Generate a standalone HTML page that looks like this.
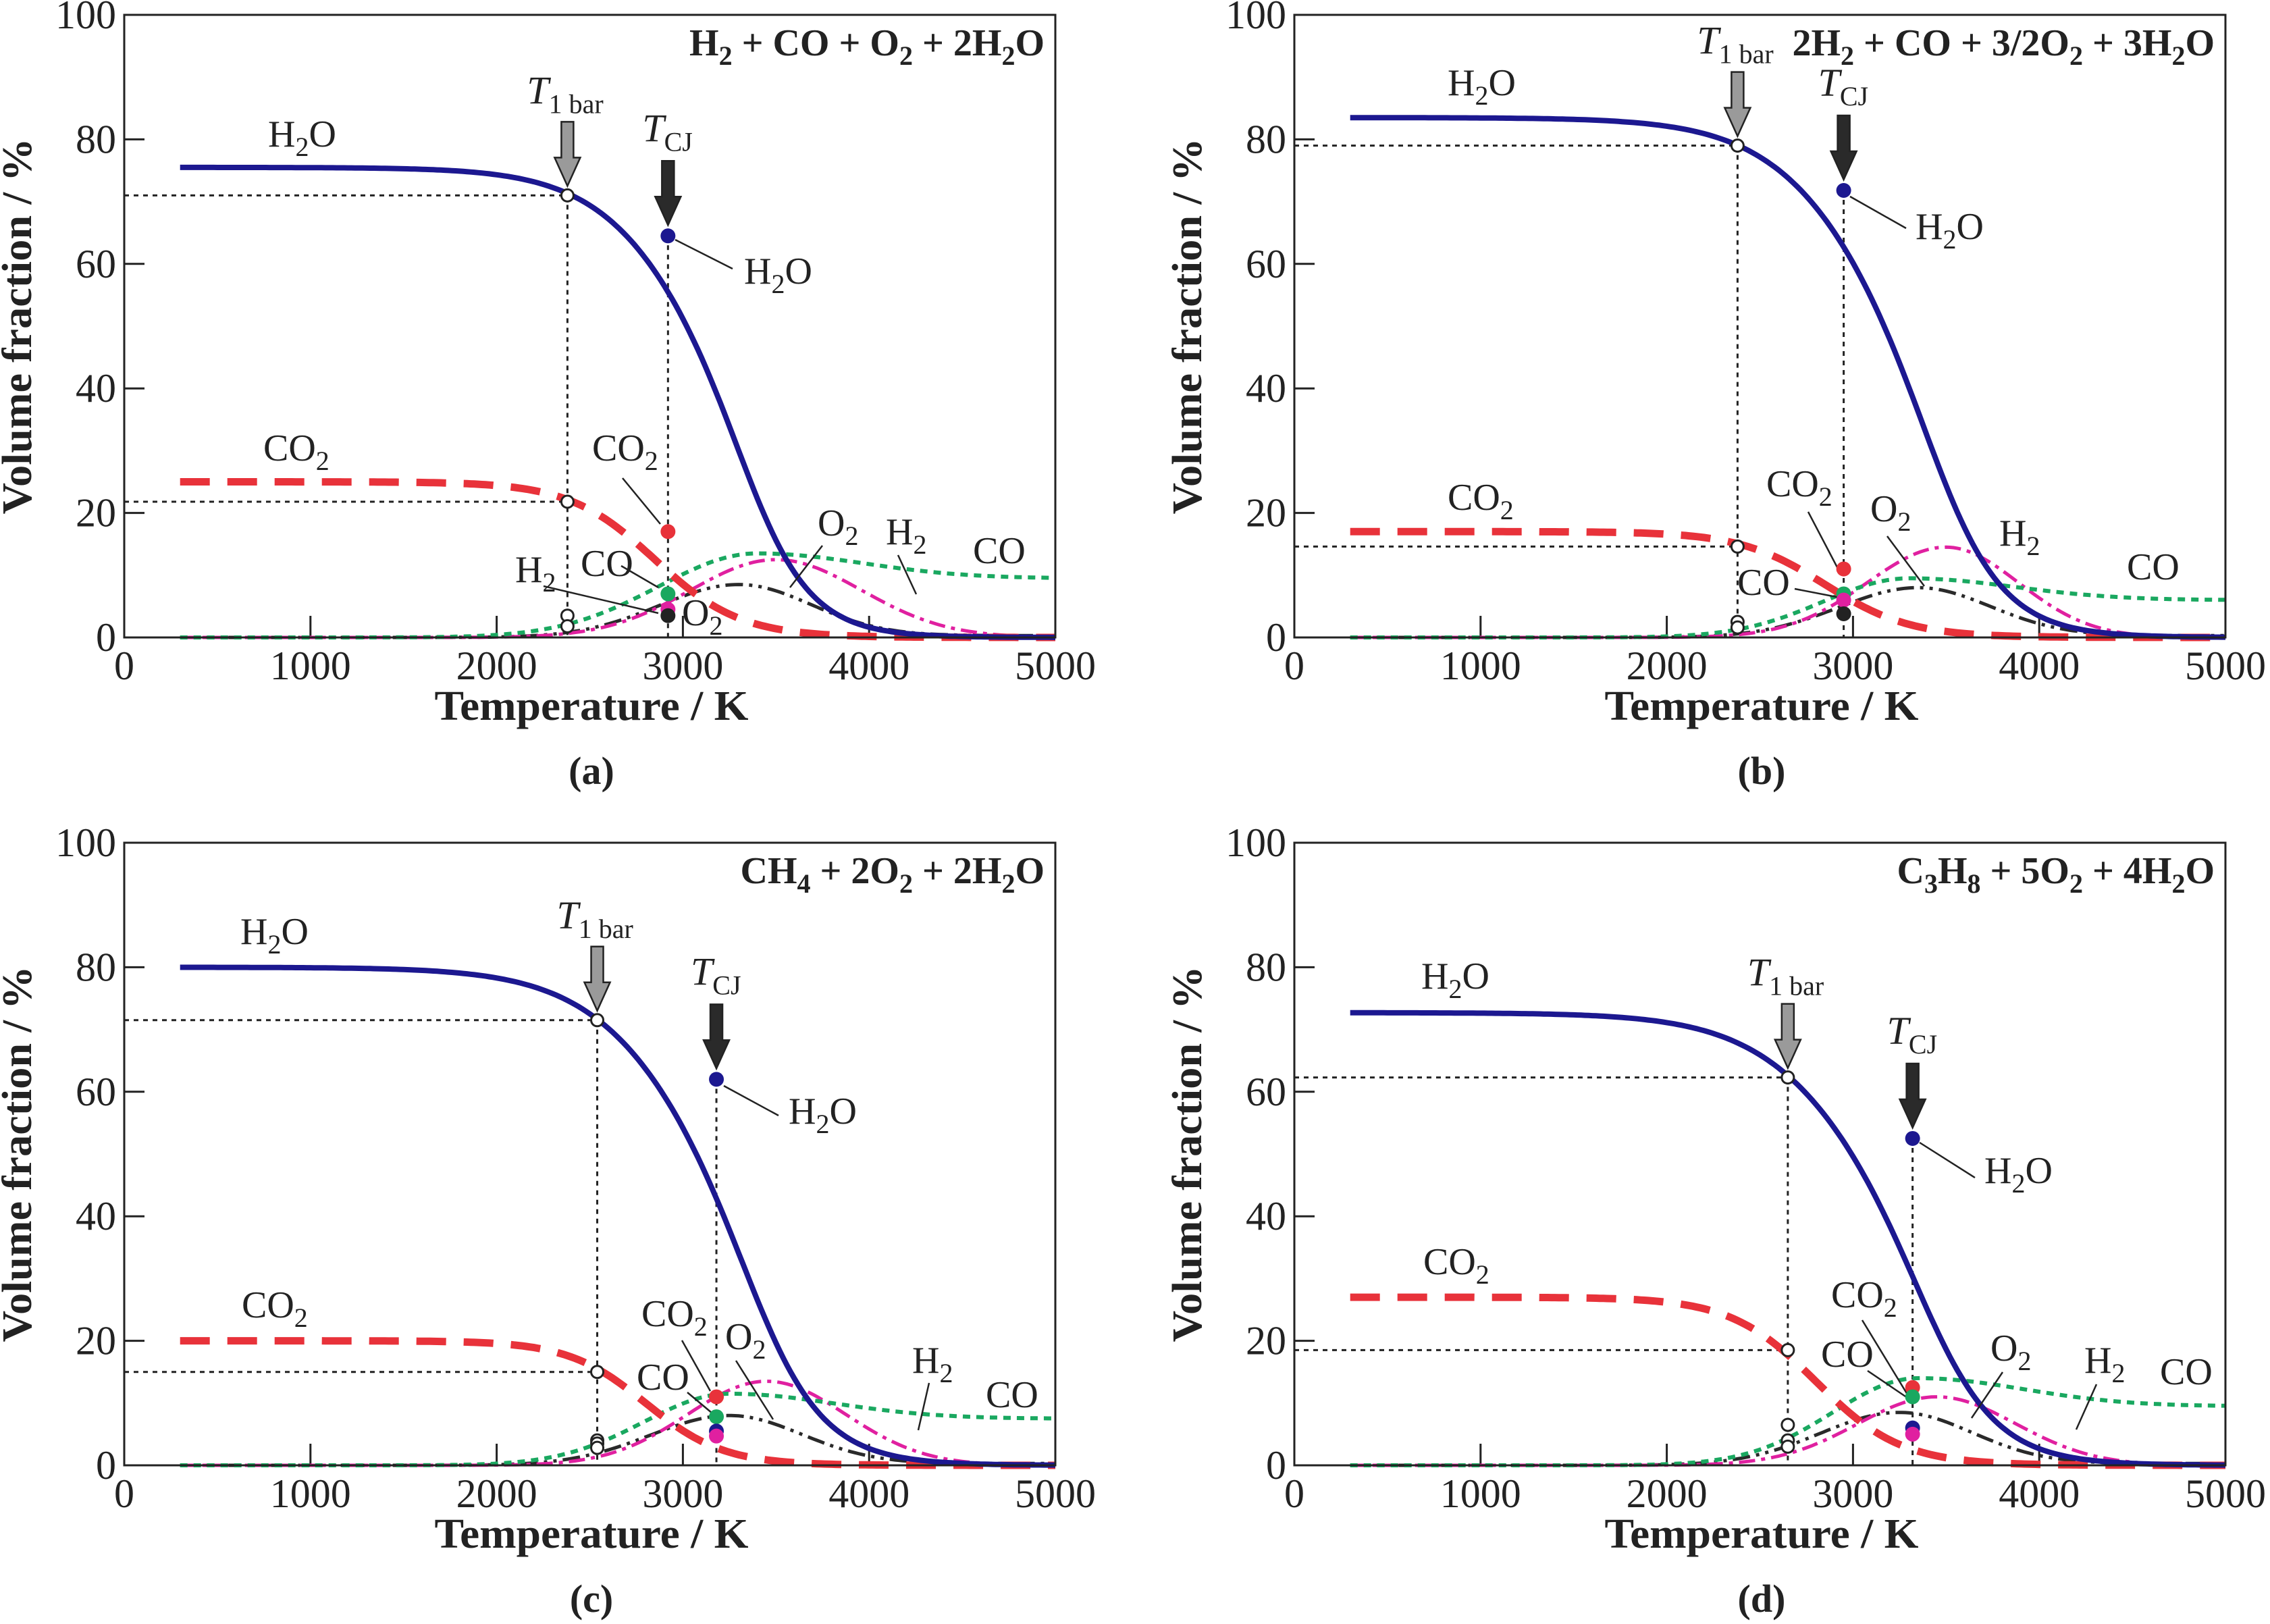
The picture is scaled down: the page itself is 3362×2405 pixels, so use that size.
<!DOCTYPE html>
<html><head><meta charset="utf-8"><style>
html,body{margin:0;padding:0;background:#fff;}
svg{display:block;}
text{font-family:"Liberation Serif",serif;fill:#222;}
</style></head><body>
<svg id="s" width="3362" height="2405" viewBox="0 0 3362 2405" xmlns="http://www.w3.org/2000/svg"></svg>
<script>
var S=document.getElementById('s'),out='';
function txt(x,y,s,fs,opt){opt=opt||{};
 var sub=Math.round(fs*0.72),dy=Math.round(fs*0.25),h='';
 var parts=s.split(/(_[0-9])/);
 for(var i=0;i<parts.length;i++){var p=parts[i];if(!p)continue;
  if(p[0]=='_'){h+='<tspan font-size="'+sub+'" dy="'+dy+'">'+p.slice(1)+'</tspan><tspan dy="-'+dy+'">\u200b</tspan>';}
  else h+='<tspan>'+p.replace(/ /g,'\u00a0')+'</tspan>';}
 out+='<text x="'+x+'" y="'+y+'" font-size="'+fs+'"'+(opt.bold?' font-weight="bold"':'')+(opt.anchor?' text-anchor="'+opt.anchor+'"':'')+'>'+h+'</text>';}
function logi(T,A,m,w){return A/(1+Math.exp((T-m)/w));}
function logh(T,A,m,w){var u=(T-m)/w;var ww=w*(1-0.28/(1+Math.exp(-u*1.5)));var z=(T-m)/ww;return A/(1+Math.exp(z));}
function bump(T,pk,Tp,s1,s2,inf){if(T<Tp)return pk*Math.exp(-Math.pow((T-Tp)/s1,2));return inf+(pk-inf)*Math.exp(-Math.pow((T-Tp)/s2,2));}
var P=[
 {x0:184,yb:944,t1:2380,tc:2920,title:'H_2 + CO + O_2 + 2H_2O',
  h:[75.5,3200,290],c:[25,2850,230],co:[13.5,3400,750,800,9.5],h2:[12.5,3500,650,650,0],o2:[8.5,3300,600,550,0.3],
  dots:[[64.5,'#1c1890'],[17,'#e8323a'],[7,'#1aa860'],[4.5,'#e020a0'],[3.5,'#222']],circ:[71,21.8,3.5,1.8],
  labs:[[397,217,'H_2O'],[1102,420,'H_2O'],[390,682,'CO_2'],[877,682,'CO_2'],[763,862,'H_2'],[860,853,'CO'],[1010,926,'O_2'],[1211,793,'O_2'],[1312,806,'H_2'],[1441,834,'CO']],
  lead:[[1000,355,1085,398],[922,708,978,776],[805,868,975,908],[920,838,975,870],[1218,808,1170,870],[1330,822,1357,880]]},
 {x0:1917,yb:944,t1:2380,tc:2950,title:'2H_2 + CO + 3/2O_2 + 3H_2O',
  h:[83.5,3280,314],c:[17,2850,230],co:[9.5,3300,650,800,6],h2:[14.5,3500,600,550,0],o2:[8,3350,600,550,0.3],
  dots:[[71.8,'#1c1890'],[11,'#e8323a'],[7,'#1aa860'],[6,'#e020a0'],[3.8,'#222']],circ:[79,14.6,2.5,1.6],
  labs:[[2144,141,'H_2O'],[2837,354,'H_2O'],[2144,755,'CO_2'],[2616,735,'CO_2'],[2770,772,'O_2'],[2573,881,'CO'],[2961,808,'H_2'],[3150,858,'CO']],
  lead:[[2740,291,2823,338],[2678,758,2722,842],[2795,794,2850,868],[2658,872,2725,885]]},
 {x0:184,yb:2170,t1:2540,tc:3180,title:'CH_4 + 2O_2 + 2H_2O',
  h:[80,3220,320],c:[20,2800,210],co:[11.5,3250,650,800,7.5],h2:[13.5,3450,600,600,0],o2:[8,3250,600,550,0.3],
  dots:[[62,'#1c1890'],[11,'#e8323a'],[7.8,'#1aa860'],[5.5,'#1c1890'],[4.7,'#e020a0']],circ:[71.5,15,4,3.5,2.8],
  labs:[[356,1398,'H_2O'],[1168,1664,'H_2O'],[358,1951,'CO_2'],[950,1964,'CO_2'],[1074,1998,'O_2'],[943,2058,'CO'],[1351,2033,'H_2'],[1460,2084,'CO']],
  lead:[[1072,1608,1153,1652],[1010,1985,1052,2060],[1090,2015,1145,2102],[1018,2062,1055,2093],[1376,2048,1360,2118]]},
 {x0:1917,yb:2170,t1:2650,tc:3320,title:'C_3H_8 + 5O_2 + 4H_2O',
  h:[72.7,3230,324],c:[27,2800,230],co:[14,3350,650,800,9.5],h2:[11,3450,600,600,0],o2:[8.5,3250,600,550,0.3],
  dots:[[52.5,'#1c1890'],[12.5,'#e8323a'],[11,'#1aa860'],[6,'#1c1890'],[5,'#e020a0']],circ:[62.3,18.5,6.5,4,3],
  labs:[[2105,1464,'H_2O'],[2939,1752,'H_2O'],[2108,1887,'CO_2'],[2712,1936,'CO_2'],[2697,2024,'CO'],[2948,2015,'O_2'],[3087,2033,'H_2'],[3199,2050,'CO']],
  lead:[[2843,1692,2925,1744],[2758,1955,2828,2070],[2766,2030,2825,2070],[2966,2032,2920,2100],[3105,2050,3075,2117]]}
];
var sc=1379/5000,pp=9.22;
P.forEach(function(p,i){
 var X=function(T){return p.x0+T*sc;},Y=function(v){return p.yb-v*pp;};
 var top=p.yb-922, xr=p.x0+1379;
 for(var v=0;v<=100;v+=20){out+='<line x1="'+p.x0+'" x2="'+(p.x0+30)+'" y1="'+Y(v)+'" y2="'+Y(v)+'" stroke="#222" stroke-width="3"/>';
  txt(p.x0-12,Y(v)+20,''+v,60,{anchor:'end'});}
 for(var T=0;T<=5000;T+=1000){out+='<line x1="'+X(T)+'" x2="'+X(T)+'" y1="'+p.yb+'" y2="'+(p.yb-32)+'" stroke="#222" stroke-width="3"/>';
  txt(X(T),p.yb+62,''+T,60,{anchor:'middle'});}
 var d='stroke="#222" stroke-width="3" stroke-dasharray="7 7" fill="none"';
 out+='<line x1="'+p.x0+'" x2="'+X(p.t1)+'" y1="'+Y(p.circ[0])+'" y2="'+Y(p.circ[0])+'" '+d+'/>';
 out+='<line x1="'+p.x0+'" x2="'+X(p.t1)+'" y1="'+Y(p.circ[1])+'" y2="'+Y(p.circ[1])+'" '+d+'/>';
 out+='<line x1="'+X(p.t1)+'" x2="'+X(p.t1)+'" y1="'+Y(p.circ[0])+'" y2="'+p.yb+'" '+d+'/>';
 out+='<line x1="'+X(p.tc)+'" x2="'+X(p.tc)+'" y1="'+Y(p.dots[0][0])+'" y2="'+p.yb+'" '+d+'/>';
 function path(f){var s='';for(var T=300;T<=5000;T+=20){s+=(T==300?'M':'L')+X(T).toFixed(1)+','+Y(f(T)).toFixed(1);}return s;}
 out+='<path d="'+path(function(T){return bump(T,p.o2[0],p.o2[1],p.o2[2],p.o2[3],p.o2[4]);})+'" stroke="#2a2a2a" stroke-width="5" fill="none" stroke-dasharray="26 9 5 9 5 9"/>';
 out+='<path d="'+path(function(T){return bump(T,p.h2[0],p.h2[1],p.h2[2],p.h2[3],p.h2[4]);})+'" stroke="#e020a0" stroke-width="5" fill="none" stroke-dasharray="24 9 6 9"/>';
 out+='<path d="'+path(function(T){return bump(T,p.co[0],p.co[1],p.co[2],p.co[3],p.co[4]);})+'" stroke="#1aa860" stroke-width="6" fill="none" stroke-dasharray="11 9"/>';
 out+='<path d="'+path(function(T){return logi(T,p.c[0],p.c[1],p.c[2]);})+'" stroke="#e8323a" stroke-width="11" fill="none" stroke-dasharray="44 26"/>';
 out+='<path d="'+path(function(T){return logh(T,p.h[0],p.h[1],p.h[2]);})+'" stroke="#1c1890" stroke-width="8" fill="none"/>';
 p.lead.forEach(function(l){out+='<line x1="'+l[0]+'" y1="'+l[1]+'" x2="'+l[2]+'" y2="'+l[3]+'" stroke="#222" stroke-width="2.5"/>';});
 p.circ.forEach(function(v){out+='<circle cx="'+X(p.t1)+'" cy="'+Y(v)+'" r="9" fill="#fff" stroke="#222" stroke-width="3"/>';});
 p.dots.forEach(function(dd){out+='<circle cx="'+X(p.tc)+'" cy="'+Y(dd[0])+'" r="11" fill="'+dd[1]+'"/>';});
 function arrow(x,tip,fill){var t=tip-95;out+='<path d="M'+(x-9)+','+t+' L'+(x+9)+','+t+' L'+(x+9)+','+(tip-42)+' L'+(x+19)+','+(tip-42)+' L'+x+','+tip+' L'+(x-19)+','+(tip-42)+' L'+(x-9)+','+(tip-42)+'Z" fill="'+fill+'" stroke="#222" stroke-width="2.5"/>';}
 arrow(X(p.t1),Y(p.circ[0])-14,'#9a9a9a');
 arrow(X(p.tc),Y(p.dots[0][0])-16,'#2a2a2a');
 out+='<text x="'+(X(p.t1)-60)+'" y="'+(Y(p.circ[0])-136)+'" font-size="58"><tspan font-style="italic">T</tspan><tspan font-size="40" dy="14">1 bar</tspan></text>';
 out+='<text x="'+(X(p.tc)-38)+'" y="'+(Y(p.dots[0][0])-140)+'" font-size="58"><tspan font-style="italic">T</tspan><tspan font-size="40" dy="14">CJ</tspan></text>';
 p.labs.forEach(function(l){txt(l[0],l[1],l[2],56);});
 out+='<rect x="'+p.x0+'" y="'+top+'" width="1379" height="922" fill="none" stroke="#222" stroke-width="3"/>';
 txt(xr-16,top+60,p.title,56,{bold:1,anchor:'end'});
 out+='<text x="'+(p.x0+692)+'" y="'+(p.yb+122)+'" font-size="62" font-weight="bold" text-anchor="middle" textLength="465" lengthAdjust="spacingAndGlyphs">Temperature / K</text>';
 var cy=p.yb-461;
 out+='<text transform="translate('+(p.x0-138)+','+cy+') rotate(-90)" font-size="62" font-weight="bold" text-anchor="middle" textLength="557" lengthAdjust="spacingAndGlyphs">Volume fraction / %</text>';
 out+='<text x="'+(p.x0+692)+'" y="'+(p.yb+217)+'" font-size="58" font-weight="bold" text-anchor="middle">('+'abcd'[i]+')</text>';
});
S.innerHTML=out;
</script>
</body></html>
